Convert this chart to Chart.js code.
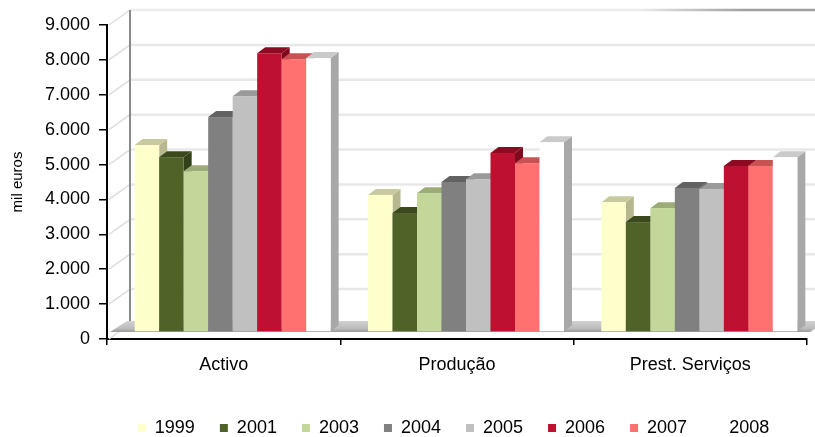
<!DOCTYPE html>
<html>
<head>
<meta charset="utf-8">
<title>mil euros</title>
<script src="https://cdn.jsdelivr.net/npm/chart.js@4/dist/chart.umd.min.js"></script>
<style>
  html, body { margin: 0; padding: 0; background: #ffffff; }
  #chart { display: block; }
</style>
</head>
<body>
<canvas id="chart" width="815" height="437"></canvas>
<script>
// Data
const categories = ['Activo', 'Produção', 'Prest. Serviços'];
const years = ['1999', '2001', '2003', '2004', '2005', '2006', '2007', '2008'];
const values1999 = [5360, 3930, 3720];
const values2001 = [5010, 3410, 3150];
const values2003 = [4610, 3980, 3550];
const values2004 = [6160, 4300, 4130];
const values2005 = [6760, 4380, 4100];
const values2006 = [7990, 5130, 4760];
const values2007 = [7820, 4840, 4760];
const values2008 = [7850, 5440, 5010];
const yTicks = [0, 1000, 2000, 3000, 4000, 5000, 6000, 7000, 8000, 9000];

const seriesValues = [values1999, values2001, values2003, values2004, values2005, values2006, values2007, values2008];

// Face colours: front, top, side
const frontColors = ['#FFFFCC', '#4F6228', '#C4D79B', '#808080', '#C0C0C0', '#BE1030', '#FF7070', '#FFFFFF'];
const topColors   = ['#C9C9A0', '#3A4A1C', '#9CAC78', '#626262', '#9A9A9A', '#8C0A22', '#C85252', '#CACACA'];
const sideColors  = ['#B8B890', '#33411A', '#8E9C6C', '#5A5A5A', '#8E8E8E', '#7E0A1E', '#B84848', '#A8A8A8'];

// Fake 3D geometry (pixels)
const barShift = { x: 9, y: -7 };    // bar front faces sit behind the axis plane
const barDepth = { x: 8, y: -6 };    // depth of each bar
const wallShift = { x: 23, y: -15 }; // back wall

const FONT = "'Liberation Sans', Arial, sans-serif";

function formatThousands(v) {
    return String(v).replace(/\B(?=(\d{3})+(?!\d))/g, '.');
}

// Draws walls, floor and bars with a 3D look
const depthPlugin = {
    id: 'depth',
    beforeDatasetsDraw(chart) {
        const ctx = chart.ctx;
        const area = chart.chartArea;
        const yScale = chart.scales.y;
        ctx.save();

        // left wall diagonals
        ctx.strokeStyle = '#dddddd';
        ctx.lineWidth = 1.5;
        yTicks.forEach(v => {
            const py = yScale.getPixelForValue(v);
            ctx.beginPath();
            ctx.moveTo(area.left + 2, py);
            ctx.lineTo(area.left + wallShift.x, py + wallShift.y);
            ctx.stroke();
        });

        // back wall gridlines
        yTicks.forEach(v => {
            const py = yScale.getPixelForValue(v) + wallShift.y;
            if (v === yTicks[yTicks.length - 1]) {
                const g = ctx.createLinearGradient(640, 0, 745, 0);
                g.addColorStop(0, '#ececec');
                g.addColorStop(0.3, '#d2d2d2');
                g.addColorStop(1, '#a0a0a0');
                ctx.strokeStyle = g;
            } else {
                ctx.strokeStyle = '#e8e8e8';
            }
            ctx.lineWidth = 2.5;
            ctx.beginPath();
            ctx.moveTo(area.left + wallShift.x, py);
            ctx.lineTo(area.right + wallShift.x + 20, py);
            ctx.stroke();
        });

        // back wall left edge
        ctx.strokeStyle = '#8a8a8a';
        ctx.lineWidth = 2;
        ctx.beginPath();
        ctx.moveTo(area.left + wallShift.x, area.top + wallShift.y);
        ctx.lineTo(area.left + wallShift.x, area.bottom + wallShift.y);
        ctx.stroke();

        // floor
        const fy = area.bottom + barShift.y;
        const fg = ctx.createLinearGradient(0, fy - 12, 0, fy);
        fg.addColorStop(0, '#d4d4d4');
        fg.addColorStop(0.7, '#bcbcbc');
        fg.addColorStop(1, '#9a9a9a');
        ctx.fillStyle = fg;
        ctx.beginPath();
        ctx.moveTo(area.left + 3, fy);
        ctx.lineTo(area.right + 3, fy);
        ctx.lineTo(area.right + 20, fy - 11);
        ctx.lineTo(area.left + 20, fy - 11);
        ctx.closePath();
        ctx.fill();

        // bars, left to right so nearer faces cover farther ones
        const metas = years.map((_, i) => chart.getDatasetMeta(i));
        categories.forEach((_, j) => {
            metas.forEach((meta, i) => {
                const el = meta.data[j];
                const l = el.x - el.width / 2 + barShift.x;
                const r = el.x + el.width / 2 + barShift.x;
                const t = el.y + barShift.y;
                const b = el.base + barShift.y;

                ctx.fillStyle = sideColors[i];
                ctx.beginPath();
                ctx.moveTo(r, t);
                ctx.lineTo(r + barDepth.x, t + barDepth.y);
                ctx.lineTo(r + barDepth.x, b + barDepth.y);
                ctx.lineTo(r, b);
                ctx.closePath();
                ctx.fill();

                ctx.fillStyle = topColors[i];
                ctx.beginPath();
                ctx.moveTo(l, t);
                ctx.lineTo(r, t);
                ctx.lineTo(r + barDepth.x, t + barDepth.y);
                ctx.lineTo(l + barDepth.x, t + barDepth.y);
                ctx.closePath();
                ctx.fill();

                ctx.fillStyle = frontColors[i];
                ctx.fillRect(l, t, r - l, b - t);
            });
        });

        ctx.restore();
        return false;
    }
};

// Moves the legend to where the reference has it
const legendPlace = {
    id: 'legendPlace',
    afterLayout(chart) {
        const lg = chart.legend;
        const pad = lg.options.labels.padding;
        const size = lg.options.labels.font.size;
        const dy = 428 - (lg.top + pad + size / 2);
        lg.top += dy;
        lg.bottom += dy;
        lg.left += 50;
        lg.right += 50;
    }
};

const datasets = years.map((year, i) => ({
    label: year,
    data: seriesValues[i],
    backgroundColor: frontColors[i],
    borderWidth: 0
}));

new Chart(document.getElementById('chart'), {
    type: 'bar',
    data: { labels: categories, datasets: datasets },
    options: {
        responsive: false,
        animation: false,
        devicePixelRatio: 1,
        categoryPercentage: 0.84,
        barPercentage: 1.0,
        layout: { padding: { top: 25, right: 8, bottom: 0, left: 0 } },
        plugins: {
            legend: {
                position: 'bottom',
                labels: {
                    boxWidth: 8,
                    boxHeight: 8,
                    padding: 25,
                    color: '#000000',
                    font: { family: FONT, size: 18 }
                }
            },
            tooltip: { enabled: false }
        },
        scales: {
            x: {
                afterFit(scale) { scale.height = 45; },
                grid: { display: true, drawOnChartArea: false, drawTicks: true, tickLength: 6, color: '#000000', lineWidth: 1.5 },
                border: { display: true, color: '#000000', width: 2 },
                ticks: { color: '#000000', padding: 9, font: { family: FONT, size: 18 } }
            },
            y: {
                min: 0,
                max: 9000,
                afterFit(scale) { scale.width = 107; },
                afterBuildTicks(scale) { scale.ticks = yTicks.map(v => ({ value: v })); },
                grid: { display: true, drawOnChartArea: false, drawTicks: true, tickLength: 8, color: '#000000', lineWidth: 1.5 },
                border: { display: true, color: '#000000', width: 2 },
                ticks: {
                    color: '#000000',
                    padding: 9,
                    font: { family: FONT, size: 18 },
                    callback: v => formatThousands(v)
                },
                title: {
                    display: true,
                    text: 'mil euros',
                    color: '#000000',
                    padding: { top: 9, bottom: 0 },
                    font: { family: FONT, size: 15 }
                }
            }
        }
    },
    plugins: [depthPlugin, legendPlace]
});
</script>
</body>
</html>
